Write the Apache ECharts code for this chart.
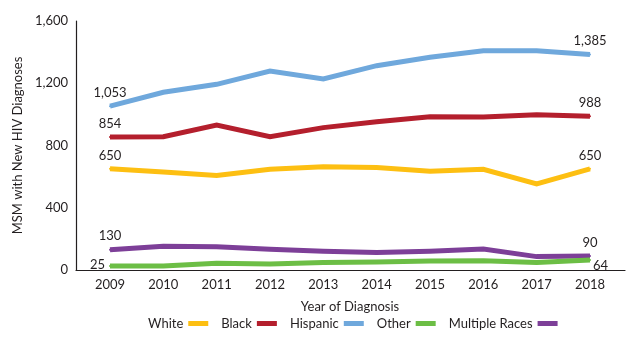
<!DOCTYPE html>
<html>
<head>
<meta charset="utf-8">
<script src="https://cdn.jsdelivr.net/npm/echarts@6/dist/echarts.min.js"></script>
<style>html,body{margin:0;padding:0;background:#fff;}#c{width:635px;height:340px;}</style>
</head>
<body>
<div id="c"></div>
<script>
const years = ['2009','2010','2011','2012','2013','2014','2015','2016','2017','2018'];
const white = [650, 630, 608, 647, 664, 658, 634, 647, 553, 650];
const black = [854, 857, 932, 857, 915, 953, 985, 983, 998, 988];
const hispanic = [1053, 1142, 1193, 1279, 1227, 1313, 1367, 1409, 1409, 1385];
const other = [25, 26, 43, 38, 48, 52, 58, 60, 48, 64];
const multiple = [130, 152, 150, 133, 120, 112, 120, 135, 86, 90];
const yTicks = [0, 400, 800, 1200, 1600];
const seriesNames = ['White', 'Black', 'Hispanic', 'Other', 'Multiple Races'];

const FONT = 'Lato';
const TXT = '#231f20';
const fmt = v => v.toLocaleString('en-US');

function labelFor(data, posFirst, posLast) {
  return data.map((v, i) => {
    if (i === 0) return { value: v, label: { show: true, ...posFirst } };
    if (i === data.length - 1) return { value: v, label: { show: true, ...posLast } };
    return v;
  });
}

const colors = ['#FDBF12', '#B41F2D', '#6FA8DC', '#6CBE45', '#7D3F98'];
const datasets = [white, black, hispanic, other, multiple];
const firstPos = [
  { position: 'top', distance: 6 },
  { position: 'top', distance: 6 },
  { position: 'top', distance: 6 },
  { position: 'left', distance: 4, offset: [0, -1] },
  { position: 'top', distance: 6 }
];
const lastPos = [
  { position: 'top', distance: 6 },
  { position: 'top', distance: 6 },
  { position: 'top', distance: 6 },
  { position: 'right', distance: 4, offset: [-2, 6] },
  { position: 'top', distance: 6 }
];

const chart = echarts.init(document.getElementById('c'), null, { renderer: 'canvas' });
chart.setOption({
  animation: false,
  textStyle: { fontFamily: FONT },
  grid: [
    { left: 110, right: 45, top: 21, bottom: 70, containLabel: false },
    { left: 76, right: 10, top: 21, bottom: 70, containLabel: false }
  ],
  legend: {
    data: seriesNames,
    left: 143,
    top: 312,
    align: 'right',
    icon: 'rect',
    itemWidth: 20,
    itemHeight: 5,
    itemGap: 13,
    textStyle: { fontFamily: FONT, fontSize: 13, color: TXT, padding: [0, 0, 0, 0] }
  },
  xAxis: [
    {
      type: 'category', gridIndex: 0, data: years, boundaryGap: false,
      axisLine: { show: false }, axisTick: { show: false },
      axisLabel: { fontFamily: FONT, fontSize: 13, color: TXT, margin: 8 },
      name: 'Year of Diagnosis', nameLocation: 'middle', nameGap: 30,
      nameTextStyle: { fontFamily: FONT, fontSize: 13, color: TXT }
    },
    {
      type: 'value', gridIndex: 1, min: 0, max: 1,
      axisLine: { show: true, lineStyle: { color: TXT, width: 1.2 } },
      axisTick: { show: false }, axisLabel: { show: false }, splitLine: { show: false }
    }
  ],
  yAxis: [
    {
      type: 'value', gridIndex: 0, min: yTicks[0], max: yTicks[yTicks.length - 1], interval: 400,
      offset: 34,
      axisLine: { show: true, lineStyle: { color: TXT, width: 1.2 } },
      axisTick: { show: false }, splitLine: { show: false },
      axisLabel: { fontFamily: FONT, fontSize: 13, color: TXT, margin: 8, formatter: v => fmt(v) },
      name: 'MSM with New HIV Diagnoses', nameLocation: 'middle', nameGap: 41, nameRotate: 90,
      nameTextStyle: { fontFamily: FONT, fontSize: 13, color: TXT }
    },
    { type: 'value', gridIndex: 1, show: false, min: 0, max: 1 }
  ],
  series: seriesNames.map((name, k) => ({
    name, type: 'line', xAxisIndex: 0, yAxisIndex: 0,
    data: labelFor(datasets[k], firstPos[k], lastPos[k]),
    symbol: 'circle', symbolSize: 2, showSymbol: true,
    lineStyle: { color: colors[k], width: 5, join: 'miter' },
    itemStyle: { color: colors[k], borderWidth: 0 },
    label: { fontFamily: FONT, fontSize: 13, color: TXT, formatter: p => fmt(p.value) },
    z: 10 - k
  }))
});
</script>
</body>
</html>
